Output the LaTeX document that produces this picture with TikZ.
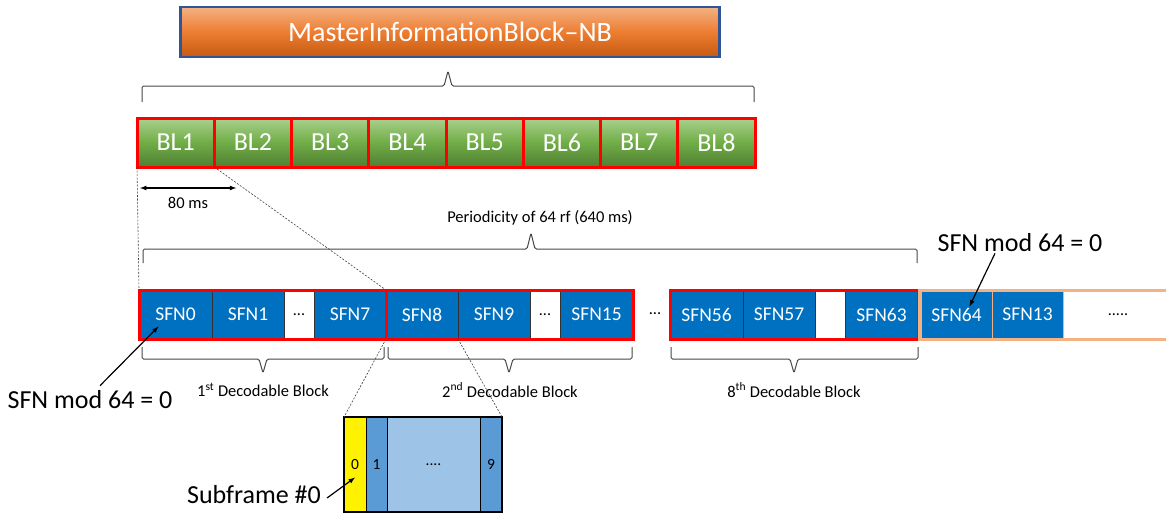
\documentclass[tikz,border=0pt]{standalone}
\usepackage{fontspec}
\setmainfont{Carlito}
\usetikzlibrary{positioning,arrows,calc}

\definecolor{mibFrame}{HTML}{2F5597}
\definecolor{mibTop}{HTML}{F4B183}
\definecolor{mibMid}{HTML}{ED7D31}
\definecolor{mibBot}{HTML}{C55A11}
\definecolor{blTop}{HTML}{A9D18E}
\definecolor{blMid}{HTML}{70AD47}
\definecolor{blBot}{HTML}{507E32}
\definecolor{sfnBlue}{HTML}{0070C0}
\definecolor{nextFrame}{HTML}{F4B183}
\definecolor{subBlue}{HTML}{5B9BD5}
\definecolor{subLight}{HTML}{9DC3E6}

\begin{document}
\begin{tikzpicture}[x=1pt,y=-1pt,
	master/.style={draw=mibFrame, line width=2.5pt, top color=mibTop, bottom color=mibBot, middle color=mibMid, minimum width=539pt, minimum height=50pt, text=white, font=\fontsize{28}{32}\selectfont},
	blbox/.style={draw=red, line width=3pt, top color=blTop, bottom color=blBot, middle color=blMid, minimum width=77.25pt, minimum height=49pt, inner sep=0pt, outer sep=0pt, anchor=north west, text=white, font=\fontsize{26}{30}\selectfont},
	cell/.style={draw=black!80, line width=0.8pt, minimum height=49pt, inner sep=0pt, outer sep=0pt, anchor=north west, font=\fontsize{19.5}{22}\selectfont},
	sfncell/.style={cell, fill=sfnBlue, text=white},
	gapcell/.style={cell, fill=white, text=black, font=\fontsize{16}{18}\selectfont},
	subcell/.style={draw=black, line width=1pt, minimum height=95pt, inner sep=0pt, outer sep=0pt, anchor=north west, font=\fontsize{15.5}{18}\selectfont},
	redframe/.style={draw=red, line width=3pt},
	bracket/.style={draw=black!72, line width=1pt, rounded corners=1.5pt},
	guide/.style={draw=black!75, dash pattern=on 2pt off 1.5pt, line width=0.6pt},
	ptr/.style={-latex, line width=1.2pt},
	lbl/.style={inner sep=1pt, font=\fontsize{16.5}{19}\selectfont},
	big/.style={inner sep=1pt, font=\fontsize{26}{30}\selectfont}]
	\useasboundingbox (0,0) rectangle (1166,517);

	\node[master] (mib) at (450,32) {MasterInformationBlock--NB};
	\foreach \i in {1,...,8}
		\node[blbox] (bl\i) at ({137+(\i-1)*77.25},118) {BL\i};
	\draw[bracket] (142,102) -- (142,86) -- (444,86) -- (448,71) -- (452,86) -- (754,86) -- (754,102);

	% radio frames
	\foreach \n/\x/\w/\t in {sfn0/139/73/SFN0, sfn1/212/72/SFN1, sfn7/314/72/SFN7, sfn8/386/72/SFN8, sfn9/458/72/SFN9, sfn15/560/73/SFN15, sfn56/670/73/SFN56, sfn57/743/72/SFN57, sfn63/845/73/SFN63}
		\node[sfncell, minimum width=\w*1pt] (\n) at (\x,290) {\t};
	\node[gapcell, minimum width=30pt] (gapA) at (284,290) {...};
	\node[gapcell, minimum width=30pt] (gapB) at (530,290) {...};
	\node[gapcell, minimum width=30pt] (gapC) at (815,290) {};
	\node[sfncell, draw=nextFrame, minimum width=71pt] (sfn64) at (921,290) {SFN64};
	\node[sfncell, draw=nextFrame, minimum width=71pt] (sfn13) at (992,290) {SFN13};
	\node[gapcell, draw=nextFrame, minimum width=110pt] (tail) at (1063,290) {.....};
	\draw[redframe] (sfn0.north west) rectangle (sfn7.south east);
	\draw[redframe] (sfn8.north west) rectangle (sfn15.south east);
	\draw[redframe] (sfn56.north west) rectangle (sfn63.south east);
	\draw[draw=nextFrame, line width=3pt] ([xshift=-1.5pt]sfn64.north west) rectangle ([xshift=10pt]tail.south east);
	\node[lbl] (gapdots) at (655,314) {...};

	\draw[guide] (bl1.south west) -- (sfn0.north west);
	\draw[guide] (bl1.south east) -- (sfn8.north west);
	\draw[latex-latex, line width=1.2pt] ([shift={(3pt,-21pt)}]bl1.south west) -- ([shift={(22pt,-21pt)}]bl1.south east);
	\node[lbl] (ms) at (188,203) {80 ms};

	\draw[bracket] (143,263) -- (143,249) -- (527,249) -- (531,233) -- (535,249) -- (917,249) -- (917,263);
	\node[lbl] (period) at (540,218) {Periodicity of 64 rf (640 ms)};

	\draw[bracket] (142,347) -- (142,359) -- (259,359) -- (263,373) -- (267,359) -- (384,359) -- (384,347);
	\draw[bracket] (388,347) -- (388,359) -- (505,359) -- (509,373) -- (513,359) -- (632,359) -- (632,347);
	\draw[bracket] (671,347) -- (671,359) -- (790,359) -- (794,373) -- (798,359) -- (918,359) -- (918,347);
	\node[lbl] (dec1) at (263,390) {1\textsuperscript{st} Decodable Block};
	\node[lbl] (dec2) at (510,390) {2\textsuperscript{nd} Decodable Block};
	\node[lbl] (dec8) at (794,390) {8\textsuperscript{th} Decodable Block};

	\node[big] (modL) at (90,400) {SFN mod 64 = 0};
	\draw[ptr] ([shift={(10pt,4pt)}]modL.north) -- ([shift={(-17pt,-12pt)}]sfn0.center);
	\node[big] (modR) at (1020,243) {SFN mod 64 = 0};
	\draw[ptr] ([xshift=-25pt]modR.south) -- ([shift={(13pt,8pt)}]sfn64.center);

	% subframes
	\node[subcell, fill=yellow, minimum width=22pt] (sf0) at (344,417) {0};
	\node[subcell, fill=subBlue, minimum width=21pt] (sf1) at (366,417) {1};
	\node[subcell, fill=subLight, minimum width=93pt] (sfdots) at (387,417) {....};
	\node[subcell, fill=subBlue, minimum width=22pt] (sf9) at (480,417) {9};
	\draw[line width=2.5pt] (sf0.north west) rectangle (sf9.south east);
	\draw[guide] (sfn8.south west) -- (sf0.north west);
	\draw[guide] (sfn8.south east) -- (sf9.north east);

	\node[big] (sub0) at (254,495) {Subframe \#0};
	\draw[ptr] ([shift={(5pt,-3pt)}]sub0.east) -- ([yshift=-13pt]sf0.center);
\end{tikzpicture}
\end{document}
